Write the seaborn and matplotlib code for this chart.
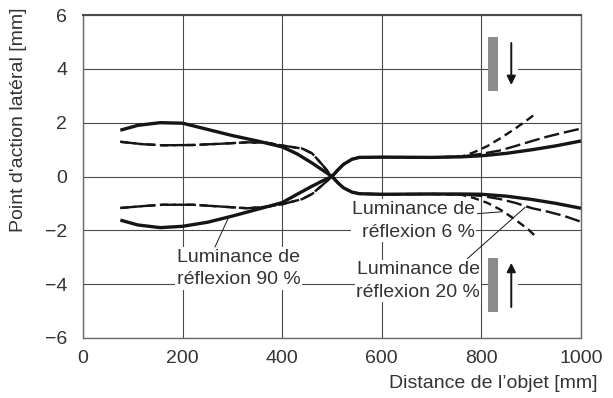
import matplotlib
matplotlib.use("Agg")
import matplotlib.pyplot as plt
from matplotlib.patches import Rectangle
import seaborn as sns
import pandas as pd

# ---------------- data ----------------
x_ticks = [0, 200, 400, 600, 800, 1000]
y_ticks = [-6, -4, -2, 0, 2, 4, 6]

# 90 % reflectance (solid)
x_left = [75, 110, 155, 200, 250, 300, 350, 400, 430, 460, 480, 500]
s90_up_left = [1.72, 1.90, 2.00, 1.98, 1.75, 1.52, 1.32, 1.10, 0.84, 0.50, 0.25, 0.0]
s90_lo_left = [-1.62, -1.80, -1.90, -1.85, -1.70, -1.47, -1.22, -0.97, -0.66, -0.36, -0.17, 0.0]

x_right = [500, 512, 523, 540, 555, 600, 700, 760, 800, 850, 900, 950, 1000]
s90_up_right = [0.0, 0.25, 0.45, 0.64, 0.71, 0.72, 0.71, 0.73, 0.77, 0.86, 0.99, 1.14, 1.32]
s90_lo_right = [0.0, -0.24, -0.42, -0.58, -0.64, -0.66, -0.65, -0.65, -0.66, -0.73, -0.85, -1.00, -1.18]

# 6 % and 20 % reflectance share the left branch (dashed)
x_dash_left = [75, 120, 160, 220, 280, 330, 370, 400, 440, 460, 480, 500]
dash_up_left = [1.29, 1.20, 1.16, 1.17, 1.22, 1.27, 1.25, 1.15, 1.04, 0.86, 0.45, 0.0]
dash_lo_left = [-1.17, -1.10, -1.05, -1.05, -1.12, -1.18, -1.12, -1.03, -0.84, -0.65, -0.33, 0.0]

# 20 % reflectance (long dash), right branch
x_20_right = [500, 523, 540, 555, 600, 700, 760, 800, 838, 868, 902, 932, 965, 1000]
r20_up_right = [0.0, 0.45, 0.64, 0.71, 0.72, 0.71, 0.74, 0.84, 0.97, 1.13, 1.32, 1.48, 1.63, 1.78]
r20_lo_right = [0.0, -0.42, -0.58, -0.64, -0.66, -0.65, -0.67, -0.72, -0.84, -0.98, -1.18, -1.30, -1.46, -1.68]

# 6 % reflectance (short dash), right branch
x_6_right = [500, 523, 540, 555, 600, 700, 760, 785, 812, 838, 868, 895, 909]
r6_up_right = [0.0, 0.45, 0.64, 0.71, 0.72, 0.71, 0.74, 0.90, 1.13, 1.42, 1.78, 2.14, 2.34]
r6_lo_right = [0.0, -0.42, -0.58, -0.64, -0.66, -0.65, -0.68, -0.80, -0.98, -1.23, -1.60, -1.98, -2.23]

labels = ["Luminance de\nréflexion 90 %",
          "Luminance de\nréflexion 6 %",
          "Luminance de\nréflexion 20 %"]

# ---------------- style ----------------
sns.set_style("white")
plt.rcParams["font.family"] = ["Liberation Sans", "DejaVu Sans"]
plt.rcParams["lines.scale_dashes"] = False
FS = 14.0
TXT = "#333333"
INK = "#151515"

fig = plt.figure(figsize=(6.13, 3.98), dpi=100)
ax = fig.add_axes([83 / 613, 1 - 338 / 398, 498 / 613, 323 / 398])

solid_kw = dict(color=INK, lw=2.4, solid_capstyle="butt")
long_kw = dict(color=INK, lw=1.7, linestyle=(0, (11, 3.5)))
short_kw = dict(color=INK, lw=1.7, linestyle=(0, (6, 3.5)))

def seg(x, y, **kw):
    df = pd.DataFrame({"x": x, "y": y})
    sns.lineplot(data=df, x="x", y="y", ax=ax, estimator=None, legend=False,
                 zorder=5, **kw)

seg(x_dash_left, dash_up_left, **long_kw)
seg(x_dash_left, dash_lo_left, **long_kw)
seg(x_dash_left, dash_up_left, **short_kw)
seg(x_dash_left, dash_lo_left, **short_kw)
seg(x_20_right, r20_up_right, **long_kw)
seg(x_20_right, r20_lo_right, **long_kw)
seg(x_6_right, r6_up_right, **short_kw)
seg(x_6_right, r6_lo_right, **short_kw)
seg(x_left, s90_up_left, **solid_kw)
seg(x_left, s90_lo_left, **solid_kw)
seg(x_right, s90_up_right, **solid_kw)
seg(x_right, s90_lo_right, **solid_kw)

# axes
ax.set_xlim(0, 1000)
ax.set_ylim(-6, 6)
ax.set_xticks(x_ticks)
ax.set_yticks(y_ticks)
ax.set_xticklabels([str(v) for v in x_ticks])
ax.set_yticklabels([str(v).replace("-", "\u2212") for v in y_ticks])
ax.grid(True, color="#4a4a4a", lw=0.8, zorder=0)
ax.set_axisbelow(True)
for s in ax.spines.values():
    s.set_color("#6a6a6a")
    s.set_linewidth(1.0)
ax.spines["top"].set_color("#4a4a4a")
ax.spines["top"].set_linewidth(1.5)
ax.tick_params(axis="both", direction="out", length=4.5, width=0.8,
               color="#555555", labelsize=FS, labelcolor=TXT)
ax.tick_params(axis="y", pad=7)
ax.tick_params(axis="x", pad=4)
ax.set_xlabel("Distance de l\u2019objet [mm]", fontsize=FS, color=TXT,
              ha="right", va="center")
ax.xaxis.set_label_coords(1.034, -0.14)
ax.set_ylabel("Point d'action latéral [mm]", fontsize=FS, color=TXT,
              ha="center", va="center")
ax.yaxis.set_label_coords(-0.13, 0.675)

# labels with white boxes hiding the grid
box = dict(facecolor="white", edgecolor="none", pad=1.0)
ax.text(312, -3.42, labels[0], fontsize=FS, color=TXT, ha="center",
        va="center", multialignment="center", bbox=box, zorder=3,
        linespacing=1.45)
ax.text(787, -1.64, labels[1], fontsize=FS, color=TXT, ha="right",
        va="center", multialignment="right", bbox=box, zorder=3,
        linespacing=1.45)
ax.text(797, -3.88, labels[2], fontsize=FS, color=TXT, ha="right",
        va="center", multialignment="right", bbox=box, zorder=3,
        linespacing=1.45)

# leader lines
lead_kw = dict(color=INK, lw=0.7, zorder=4)
ax.plot([265, 293], [-2.62, -1.49], **lead_kw)
ax.plot([792, 842], [-1.38, -1.31], **lead_kw)
ax.plot([772, 888], [-3.05, -1.14], **lead_kw)

# sensor symbols (grey receiver bar and arrow)
bar_x0, bar_w = 814, 19
arrow_x = 860
top_bar = (3.17, 5.19)
bot_bar = (-5.04, -3.02)
for (y0, y1) in (top_bar, bot_bar):
    ax.add_patch(Rectangle((bar_x0, y0), bar_w, y1 - y0, facecolor="#8c8c8c",
                           edgecolor="none", zorder=3))
for yg in (4, -4):
    ax.add_patch(Rectangle((bar_x0 + bar_w, yg - 0.15), 40, 0.3,
                           facecolor="white", edgecolor="none", zorder=2.5))
ax.annotate("", xy=(arrow_x, 3.4), xytext=(arrow_x, 4.96),
            arrowprops=dict(arrowstyle="-|>", color=INK, lw=1.4,
                            mutation_scale=13, shrinkA=0, shrinkB=0), zorder=4)
ax.annotate("", xy=(arrow_x, -3.21), xytext=(arrow_x, -4.85),
            arrowprops=dict(arrowstyle="-|>", color=INK, lw=1.4,
                            mutation_scale=13, shrinkA=0, shrinkB=0), zorder=4)

fig.savefig("out.png", dpi=100)
